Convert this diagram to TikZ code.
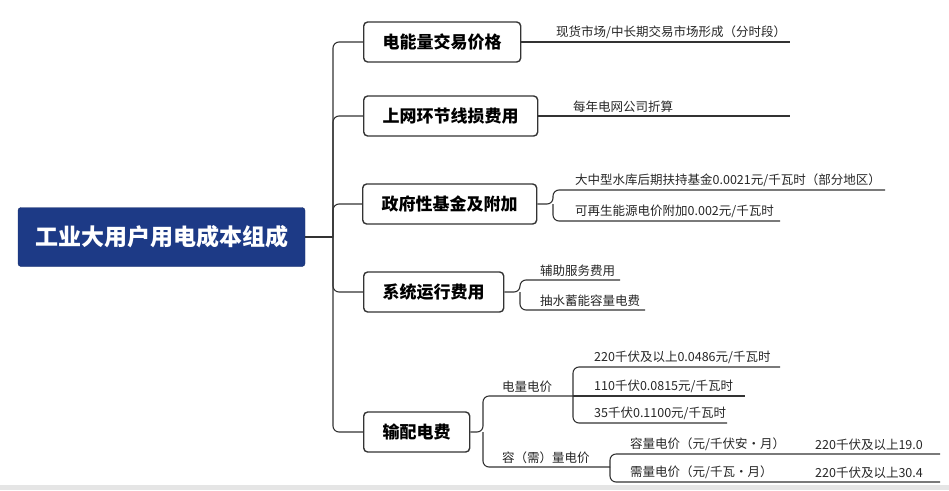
\documentclass[tikz,border=0pt]{standalone}
\usepackage{fontspec}
\newfontfamily\cjk{Noto Sans CJK SC}
\usepackage{tikz}
\definecolor{rootblue}{HTML}{1D3A86}
\definecolor{inkgray}{HTML}{333333}

\begin{document}
\begin{tikzpicture}[
x=1pt,y=-1pt,
root/.style={draw=rootblue!80!black,fill=rootblue,rounded corners=3pt,text=white,
minimum width=287pt,minimum height=59pt,font=\cjk\bfseries\fontsize{23}{26}\selectfont},
topic/.style={draw=inkgray,line width=1.4pt,rounded corners=4pt,anchor=west,
minimum height=40pt,inner xsep=19pt,font=\cjk\bfseries\fontsize{17}{20}\selectfont},
leaf/.style={anchor=south west,inner xsep=0pt,inner ysep=3pt,
font=\cjk\fontsize{12.5}{14}\selectfont,text=black!85},
link/.style={draw=inkgray,line width=1.1pt,rounded corners=6pt}
]
\useasboundingbox (0,0) rectangle (949,490);
\fill[black!10] (0,485) rectangle (949,490);

\node[root] (root) at (161.5,237) {工业大用户用电成本组成};
\coordinate (hub) at (333,237);

\node[topic] (jy) at (363,42)  {电能量交易价格};
\node[topic] (xs) at (363,116) {上网环节线损费用};
\node[topic] (zf) at (362,204) {政府性基金及附加};
\node[topic] (xt) at (363,292) {系统运行费用};
\node[topic] (sp) at (363,432) {输配电费};

\draw[link] (root) -- (hub);
\foreach \t in {jy,xs,zf,xt,sp}
  \draw[link] (hub) |- (\t.west);

% 电能量 / 线损
\coordinate (jy-e) at (790,42);
\coordinate (xs-e) at (790,116);
\node[leaf] (jy-a) at (556,42)  {现货市场/中长期交易市场形成（分时段）};
\node[leaf] (xs-a) at (573,116) {每年电网公司折算};
\draw[link] (jy) -- (jy-e);
\draw[link] (xs) -- (xs-e);

% 基金及附加
\coordinate (zf-j) at (553,204);
\coordinate (zf-1) at (885,190);
\coordinate (zf-2) at (780,221);
\node[leaf] (zf-a) at (575,190) {大中型水库后期扶持基金0.0021元/千瓦时（部分地区）};
\node[leaf] (zf-b) at (575,221) {可再生能源电价附加0.002元/千瓦时};
\draw[link] (zf.east) -- (zf-j) |- (zf-1);
\draw[link] (zf-j) |- (zf-2);

% 系统运行
\coordinate (xt-j) at (520,292);
\coordinate (xt-1) at (620,280);
\coordinate (xt-2) at (645,310);
\node[leaf] (xt-a) at (540,280) {辅助服务费用};
\node[leaf] (xt-b) at (540,310) {抽水蓄能容量电费};
\draw[link] (xt.east) -- (xt-j) |- (xt-1);
\draw[link] (xt-j) |- (xt-2);

% 输配电费
\coordinate (sp-j) at (483,432);
\coordinate (dl-j) at (573,396);
\coordinate (rx-j) at (610,467);
\node[leaf] (dl) at (502,396) {电量电价};
\node[leaf] (rx) at (502,467) {容（需）量电价};
\draw[link] (sp.east) -- (sp-j) |- (dl-j);
\draw[link] (sp-j) |- (rx-j);

\coordinate (dl-1) at (780,367);
\coordinate (dl-2) at (745,396);
\coordinate (dl-3) at (727,423);
\node[leaf] (dl-a) at (594,367) {220千伏及以上0.0486元/千瓦时};
\node[leaf] (dl-b) at (594,396) {110千伏0.0815元/千瓦时};
\node[leaf] (dl-c) at (594,423) {35千伏0.1100元/千瓦时};
\draw[link] (dl-j) |- (dl-1);
\draw[link] (dl-j) -- (dl-2);
\draw[link] (dl-j) |- (dl-3);

\coordinate (rx-1) at (940,454);
\coordinate (rx-2) at (940,482);
\node[leaf] (rx-a) at (630,454) {容量电价（元/千伏安•月）};
\node[leaf] (rx-b) at (630,482) {需量电价（元/千瓦•月）};
\node[leaf] (rx-av) at (815,454) {220千伏及以上19.0};
\node[leaf] (rx-bv) at (815,482) {220千伏及以上30.4};
\draw[link] (rx-j) |- (rx-1);
\draw[link] (rx-j) |- (rx-2);
\end{tikzpicture}
\end{document}
